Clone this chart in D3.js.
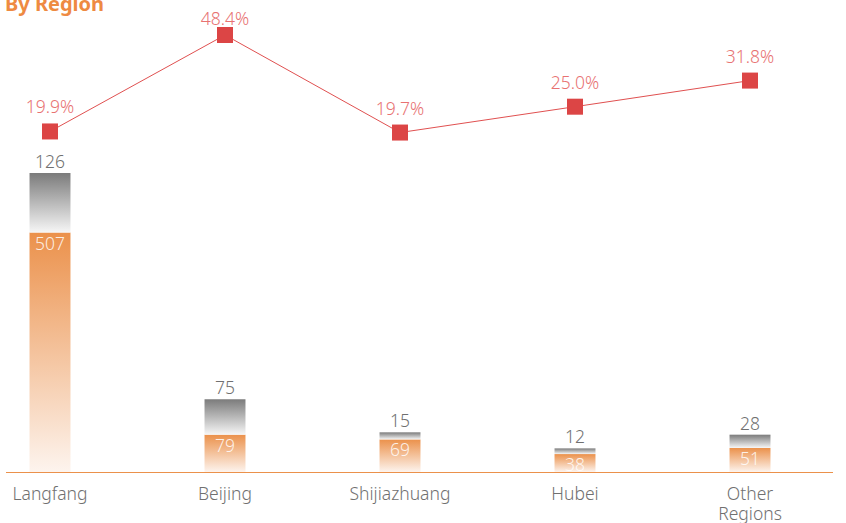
<!DOCTYPE html>
<html><head><meta charset="utf-8">
<script src="https://cdn.jsdelivr.net/npm/d3@7"></script>
<style>body{margin:0;background:#fff}svg{display:block;font-family:"Noto Sans","Open Sans",sans-serif}</style>
</head><body><svg id="c" width="846" height="523"></svg>
<script>
const categories = ["Langfang","Beijing","Shijiazhuang","Hubei","Other Regions"];
const orangeValues = [507,79,69,38,51];
const grayValues = [126,75,15,12,28];
const percentValues = [19.9,48.4,19.7,25.0,31.8];
const title = "By Region";

const svg = d3.select("#c");
const defs = svg.append("defs");
function grad(id, c1, c2){
  const g = defs.append("linearGradient").attr("id",id).attr("x1",0).attr("y1",0).attr("x2",0).attr("y2",1);
  g.append("stop").attr("offset","0%").attr("stop-color",c1);
  g.append("stop").attr("offset","100%").attr("stop-color",c2);
}
grad("gOrange","#eb914b","#fdf4ee");
grad("gGray","#7b7b7b","#f6f6f6");

const x = d3.scaleBand().domain(categories).range([-37.5,837.5]).paddingInner(0.766).paddingOuter(0.383);
const y = d3.scaleLinear().domain([0,633]).range([472,173]);
const yp = d3.scaleLog().domain([19.8,48.4]).range([132,35]);

const data = categories.map((c,i)=>({c, o:orangeValues[i], g:grayValues[i], p:percentValues[i]}));
const bw = x.bandwidth();
const fs = 17.5;

// bars
svg.selectAll("rect.o").data(data).join("rect").attr("class","o")
  .attr("x",d=>x(d.c)).attr("width",bw)
  .attr("y",d=>y(d.o)).attr("height",d=>y(0)-y(d.o)).attr("fill","url(#gOrange)");
svg.selectAll("rect.g").data(data).join("rect").attr("class","g")
  .attr("x",d=>x(d.c)).attr("width",bw)
  .attr("y",d=>y(d.o+d.g)).attr("height",d=>y(d.o)-y(d.o+d.g)).attr("fill","url(#gGray)");

// axis line
svg.append("line").attr("x1",6).attr("x2",833).attr("y1",y(0)+0.5).attr("y2",y(0)+0.5)
  .attr("stroke","#eb914b").attr("stroke-width",1.2);

// value labels
svg.selectAll("text.gv").data(data).join("text").attr("class","gv")
  .attr("x",d=>x(d.c)+bw/2).attr("y",d=>y(d.o+d.g)-5).attr("text-anchor","middle")
  .attr("font-size",fs).attr("font-weight",300).attr("fill","#707070").text(d=>d.g);
svg.selectAll("text.ov").data(data).join("text").attr("class","ov")
  .attr("x",d=>x(d.c)+bw/2).attr("y",d=>y(d.o)+17).attr("text-anchor","middle")
  .attr("font-size",fs).attr("font-weight",300).attr("fill","#fff").attr("fill-opacity",0.85).text(d=>d.o);

// category labels
const cl = svg.selectAll("text.cat").data(data).join("text").attr("class","cat")
  .attr("x",d=>x(d.c)+bw/2).attr("y",500).attr("text-anchor","middle")
  .attr("font-size",fs).attr("font-weight",300).attr("fill","#707070");
cl.each(function(d){
  const words = d.c.split(" ");
  const t = d3.select(this);
  words.forEach((w,i)=>t.append("tspan").attr("x",x(d.c)+bw/2).attr("dy",i?20:0).text(w));
});

// line
const line = d3.line().x(d=>x(d.c)+bw/2).y(d=>yp(d.p));
svg.append("path").datum(data).attr("d",line).attr("fill","none").attr("stroke","#e05050").attr("stroke-width",1);
svg.selectAll("rect.m").data(data).join("rect").attr("class","m")
  .attr("x",d=>x(d.c)+bw/2-8).attr("y",d=>yp(d.p)-8).attr("width",16).attr("height",16).attr("fill","#dc4545");
svg.selectAll("text.pv").data(data).join("text").attr("class","pv")
  .attr("x",d=>x(d.c)+bw/2).attr("y",d=>Math.max(yp(d.p)-18,25)).attr("text-anchor","middle")
  .attr("font-size",fs).attr("font-weight",300).attr("fill","#e87272").text(d=>d.p.toFixed(1)+"%");

svg.append("text").attr("x",5).attr("y",11).attr("font-size",20).attr("font-weight","bold")
  .attr("fill","#ee8a42").text(title);
</script></body></html>
